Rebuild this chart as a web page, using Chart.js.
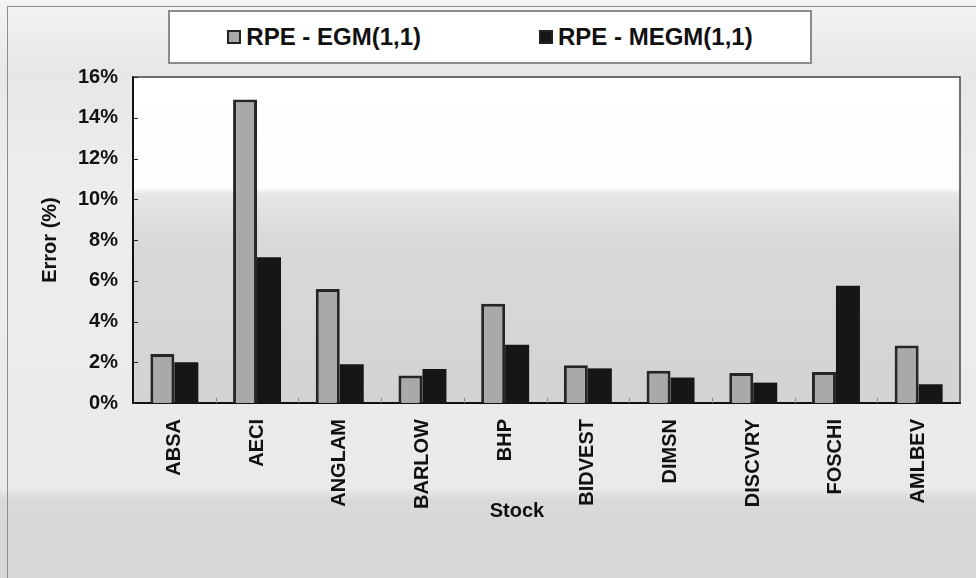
<!DOCTYPE html>
<html lang="en">
<head>
<meta charset="UTF-8">
<title>RPE - EGM(1,1) vs MEGM(1,1)</title>
<script src="https://cdn.jsdelivr.net/npm/chart.js"></script>
<style>
    body {
        margin: 0;
        background: #ffffff;
        font-family: "Liberation Sans", Arial, sans-serif;
    }
    .frame {
        position: relative;
        width: 976px;
        height: 578px;
        overflow: hidden;
        background: linear-gradient(to bottom, #f4f4f4 0px, #e7e7e7 70px, #ededed 190px, #eaeaea 488px, #d9d9d9 500px, #d7d7d7 578px);
    }
    .outline {
        position: absolute;
        left: 7px;
        top: 6px;
        right: -6px;
        bottom: -6px;
        border: 1.5px solid #8e8e8e;
    }
    canvas {
        position: absolute;
        left: 0;
        top: 0;
    }
    .legend {
        position: absolute;
        left: 168px;
        top: 10px;
        width: 640px;
        height: 50px;
        background: #ffffff;
        border: 2px solid #8c8c8c;
        display: flex;
        align-items: center;
        justify-content: center;
        gap: 118px;
        font-weight: bold;
        font-size: 24px;
        color: #111;
    }
    .legend span.item {
        display: flex;
        align-items: center;
    }
    .legend i {
        display: inline-block;
        width: 10px;
        height: 10px;
        border: 2px solid #222;
        margin-right: 5px;
    }
</style>
</head>
<body>
<div class="frame">
    <div class="outline"></div>
    <canvas id="errChart" width="976" height="578"></canvas>
    <div class="legend" id="legend"></div>
</div>

<script>
// stocks and relative prediction errors (%)
const categories = ['ABSA', 'AECI', 'ANGLAM', 'BARLOW', 'BHP', 'BIDVEST', 'DIMSN', 'DISCVRY', 'FOSCHI', 'AMLBEV'];
const egmErrors = [2.4, 14.9, 5.6, 1.35, 4.87, 1.85, 1.58, 1.47, 1.52, 2.82];
const megmErrors = [2.0, 7.15, 1.9, 1.67, 2.86, 1.7, 1.25, 1.0, 5.75, 0.92];
const seriesNames = ['RPE - EGM(1,1)', 'RPE - MEGM(1,1)'];
const yTitle = 'Error (%)';
const xTitle = 'Stock';

Chart.defaults.font.family = '"Liberation Sans", Arial, sans-serif';
Chart.defaults.color = '#111';

// plot area fill (scan look: white on top, grey below), border and inside tick marks
const plotDecor = {
    id: 'plotDecor',
    beforeDraw(chart) {
        const {ctx, chartArea: a} = chart;
        const g = ctx.createLinearGradient(0, a.top, 0, a.bottom);
        g.addColorStop(0, '#ffffff');
        g.addColorStop(0.34, '#fdfdfd');
        g.addColorStop(0.36, '#e6e6e6');
        g.addColorStop(0.5, '#d9d9d9');
        g.addColorStop(1, '#d3d3d3');
        ctx.save();
        ctx.fillStyle = g;
        ctx.fillRect(a.left, a.top, a.right - a.left, a.bottom - a.top);
        ctx.restore();
    },
    afterDraw(chart) {
        const {ctx, chartArea: a, scales} = chart;
        ctx.save();
        ctx.strokeStyle = '#444';
        ctx.lineWidth = 1.5;
        ctx.beginPath();
        ctx.moveTo(a.left, a.top);
        ctx.lineTo(a.right, a.top);
        ctx.lineTo(a.right, a.bottom);
        ctx.stroke();

        // y ticks pointing inward
        ctx.strokeStyle = '#222';
        ctx.lineWidth = 1;
        scales.y.ticks.forEach(t => {
            const y = Math.round(scales.y.getPixelForValue(t.value)) + 0.5;
            ctx.beginPath();
            ctx.moveTo(a.left, y);
            ctx.lineTo(a.left + 5, y);
            ctx.stroke();
        });
        // x ticks at category boundaries
        ctx.strokeStyle = '#888';
        const step = (a.right - a.left) / categories.length;
        for (let i = 1; i < categories.length; i++) {
            const x = Math.round(a.left + i * step) + 0.5;
            ctx.beginPath();
            ctx.moveTo(x, a.bottom);
            ctx.lineTo(x, a.bottom - 5);
            ctx.stroke();
        }

        // x axis title sits between the rotated labels
        ctx.fillStyle = '#111';
        ctx.font = 'bold 20px "Liberation Sans", Arial, sans-serif';
        ctx.textAlign = 'center';
        ctx.textBaseline = 'middle';
        ctx.fillText(xTitle, a.left + 384, a.bottom + 108);
        ctx.restore();
    }
};

const chart = new Chart(document.getElementById('errChart'), {
    type: 'bar',
    data: {
        labels: categories,
        datasets: [
            {
                label: seriesNames[0],
                data: egmErrors,
                backgroundColor: '#a9a9a9',
                borderColor: '#262626',
                borderWidth: 3
            },
            {
                label: seriesNames[1],
                data: megmErrors,
                backgroundColor: '#161616',
                borderColor: '#161616',
                borderWidth: 0
            }
        ]
    },
    options: {
        responsive: false,
        animation: false,
        layout: {
            padding: {left: 8, right: 16, top: 77, bottom: 0}
        },
        datasets: {
            bar: {
                categoryPercentage: 0.58,
                barPercentage: 1.0
            }
        },
        plugins: {
            legend: {display: false},
            tooltip: {enabled: false}
        },
        scales: {
            x: {
                grid: {display: false},
                border: {display: true, color: '#111', width: 2},
                ticks: {
                    autoSkip: false,
                    minRotation: 90,
                    maxRotation: 90,
                    padding: 8,
                    font: {size: 20, weight: 'bold'}
                },
                afterFit: function(scale) {
                    scale.height = 175;
                }
            },
            y: {
                min: 0,
                max: 16,
                grid: {display: false},
                border: {display: true, color: '#111', width: 2},
                ticks: {
                    stepSize: 2,
                    padding: 7,
                    font: {size: 20, weight: 'bold'},
                    callback: function(value) {
                        return value + '%';
                    }
                },
                title: {
                    display: true,
                    text: yTitle,
                    font: {size: 20, weight: 'bold'},
                    padding: {top: 30, bottom: 0}
                },
                afterFit: function(scale) {
                    scale.width = 125;
                }
            }
        }
    },
    plugins: [plotDecor]
});

// legend box built from the datasets
const legendEl = document.getElementById('legend');
chart.data.datasets.forEach(ds => {
    const item = document.createElement('span');
    item.className = 'item';
    const sw = document.createElement('i');
    sw.style.background = ds.backgroundColor;
    item.appendChild(sw);
    item.appendChild(document.createTextNode(ds.label));
    legendEl.appendChild(item);
});
</script>
</body>
</html>
